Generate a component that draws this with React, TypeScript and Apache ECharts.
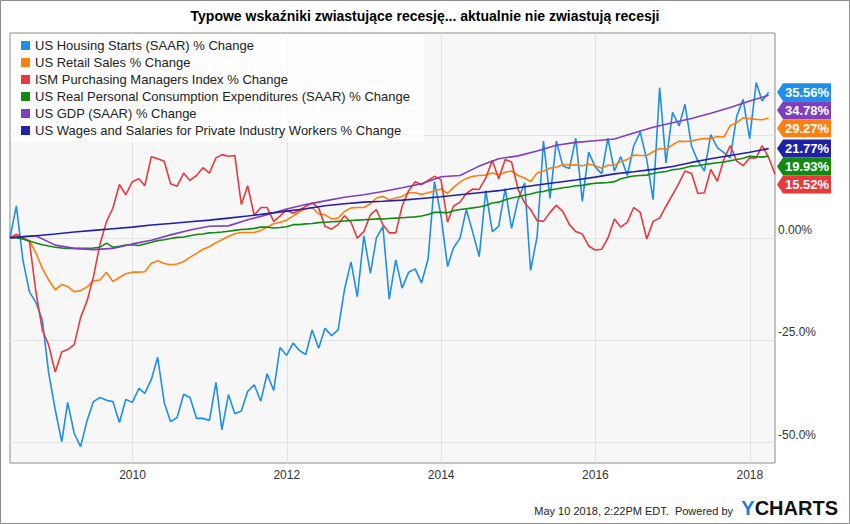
import React, { useEffect, useRef } from 'react';
import * as echarts from 'echarts';

const TITLE = 'Typowe wskaźniki zwiastujące recesję... aktualnie nie zwiastują recesji';
const FOOTER = 'May 10 2018, 2:22PM EDT.  Powered by';

const NAMES = [
  'US Housing Starts (SAAR) % Change',
  'US Retail Sales % Change',
  'ISM Purchasing Managers Index % Change',
  'US Real Personal Consumption Expenditures (SAAR) % Change',
  'US GDP (SAAR) % Change',
  'US Wages and Salaries for Private Industry Workers % Change',
];
const COLORS = ['#1f8ee8', '#ff7f0e', '#e8393d', '#128a12', '#7f3fbf', '#2121a6'];

// Monthly series, first value = May 2008 (month end)
const housingStarts = [
  0, 7.8, -5.4, -13.2, -15.7, -20.1, -33, -42, -49.8, -40.2,
  -47.8, -51, -44.6, -40, -39, -39.7, -40, -45.1, -39.5, -40.2,
  -36.8, -38, -34.6, -29.2, -40.2, -44.9, -43.9, -38.2, -39, -44.1,
  -44.1, -44.6, -35.3, -46.9, -38.3, -43, -42.3, -37.5, -35.9, -39.9,
  -33.2, -37.3, -26.8, -28.7, -25.7, -27.5, -28.5, -22.5, -27, -22.1,
  -23.9, -22.5, -12.7, -5.9, -14.4, 0.5, -8.7, -0.1, 2.8, -15,
  -5.4, -12.3, -8.4, -7.6, -11, -5.2, 13.7, 5.4, -7, -2.5,
  -0.1, 6.9, 1.2, -4.6, 11.5, 1.5, 2.8, 12, 2.3, 9.3,
  13.4, -8, 0.3, 23.6, 9.6, 23.6, 17.5, 16.9, 24.3, 8.9,
  20.9, 17.3, 15.6, 24.3, 16.3, 19.8, 15.2, 22.4, 25.8, 19.1,
  9.3, 36.7, 18.3, 30.6, 27.3, 32.6, 22.4, 18.7, 16.3, 25.2,
  22, 20.8, 19.5, 29.7, 33.8, 24.2, 37.9, 33.4, 35.56,
];
const retailSales = [
  0, 0.5, -0.3, -0.7, -3.6, -7.5, -10.3, -12.7, -11.4, -11.9,
  -13.2, -12.9, -12, -10.5, -10.3, -8.4, -10.7, -9.7, -8.8, -8.4,
  -8.4, -8.3, -6.2, -5.6, -6.3, -6.6, -6.4, -5.8, -4.8, -3.8,
  -2.8, -2.2, -1.2, -0.5, 0.3, 1, 1.3, 1.3, 1.3, 1.8,
  2.6, 3.4, 3.8, 4.3, 5.3, 6.3, 7.1, 7.4, 5.8, 5.6,
  4.6, 4.8, 6.4, 7.3, 7.4, 7.4, 8.3, 9.7, 10.1, 9.3,
  9.7, 10.1, 11, 11, 10.6, 11, 11.4, 11.9, 10.8, 12.3,
  13.6, 14.5, 15, 15.2, 15.3, 15.8, 15.4, 16, 16.3, 15.2,
  14.6, 13.7, 15.8, 16.3, 17, 17.2, 17.9, 17.8, 17.8, 17.6,
  18, 17.6, 17, 17.7, 17.7, 18.6, 19.1, 20.2, 20.1, 20.1,
  21, 21.8, 21.6, 22.7, 23.6, 23.5, 23.6, 24, 24.2, 24.2,
  24.7, 24.6, 27.4, 28.1, 29.3, 29.1, 28.9, 28.8, 29.27,
];
const ismPmi = [
  0, 0.9, 0, -0.9, -13, -22.5, -26.2, -32.8, -27.9, -27.3,
  -26.1, -19.5, -15.4, -9.5, -1.5, 4, 7.2, 13, 10.5, 13.7,
  14.4, 12.7, 19.8, 19.3, 18.7, 13.2, 12.6, 15.8, 14, 15.2,
  17.1, 15.8, 19.5, 20.3, 19.9, 20.1, 8.1, 12.7, 5.5, 7.4,
  7.4, 4, 5.3, 6.8, 6, 6.7, 7.7, 8.5, 7.3, 2.8,
  2.1, 3.2, 5.4, 3.8, -0.1, 1.5, 5.6, 6.9, 3.2, 1.2,
  1.2, 7.7, 11.5, 13.7, 13, 14, 15, 14.2, 3.8, 7.7,
  8.7, 10.8, 11.9, 11.8, 14.6, 18.9, 14.4, 19.1, 18.5, 11.8,
  8.5, 6.9, 4.2, 4, 6.2, 7.9, 6.4, 3.2, 1.5, 0.9,
  -2, -3, -2.8, -0.1, 4.6, 2.6, 3.8, 7.4, 6.2, -0.3,
  4, 4.8, 7.7, 10.5, 13.4, 16.3, 15.7, 10.8, 11, 16.7,
  13.8, 19.1, 22.5, 18.7, 17.6, 19.5, 19.5, 22.5, 19.6, 15.52,
];
const realPce = [
  0, 0, -0.3, -0.8, -1.3, -1.7, -2, -2.3, -2.5, -2.6,
  -2.6, -2.6, -2.6, -2.5, -2.3, -1.3, -2.3, -2.1, -1.8, -1.7,
  -1.9, -1.5, -1.1, -0.7, -0.5, -0.2, 0.1, 0.2, 0.5, 0.8,
  0.9, 1.2, 1.3, 1.4, 1.6, 1.8, 2, 2.1, 2.3, 2.6,
  2.6, 2.4, 2.5, 2.7, 3.2, 3.2, 3.4, 3.5, 3.7, 3.8,
  3.9, 4, 4.1, 4.2, 4.3, 4.4, 4.5, 4.6, 4.6, 4.7,
  4.8, 4.9, 5, 5.1, 5.3, 5.7, 6.2, 6.2, 6.1, 6.6,
  6.9, 7.1, 7.3, 7.5, 7.9, 8.5, 8.7, 9.3, 9.7, 10,
  10.4, 10.7, 11.1, 11.3, 11.7, 11.9, 12.2, 12.4, 12.7, 12.8,
  13.1, 13.3, 13.4, 13.5, 13.7, 14.4, 14.8, 15.1, 15.2, 15.3,
  15.7, 16, 16.2, 16.6, 16.8, 17.1, 17.5, 17.6, 17.9, 18.1,
  18.3, 18.5, 18.8, 19.1, 19.4, 19.9, 19.8, 19.7, 19.93,
];
// Quarterly series: first value = chart start (May 2008), then Q2 2008 .. Q1 2018
const gdp = [
  0, 0.2, 0.5, -1.8, -2.6, -2.9, -2.6, -1.5, -0.6, 0.7, 1.9,
  2.8, 2.9, 4.4, 5.6, 7, 8.1, 9, 9.9, 10.5, 11.3,
  12.2, 13.2, 14.9, 15.2, 17.5, 19.3, 20, 21.2, 22.6, 23.3,
  23.7, 24.1, 25.6, 27, 28.1, 29.1, 30.4, 31.8, 33.4, 34.78,
];
const wages = [
  0, 0.1, 0.5, 0.9, 1.4, 1.8, 2.2, 2.6, 3.1, 3.5, 3.9,
  4.3, 4.8, 5.3, 5.9, 6.5, 7.1, 7.8, 8.3, 8.7, 8.9,
  9.2, 9.6, 10, 10.5, 11, 11.5, 12.2, 12.9, 13.5, 14.1,
  14.8, 15.6, 16.1, 16.7, 17.4, 18.4, 19.3, 20.1, 20.9, 21.77,
];

const Y_GRID = [-50, -25, 0, 25];
const Y_LABELS = [-50, -25, 0];
const X_YEARS = [2010, 2012, 2014, 2016, 2018];

const START = Date.UTC(2008, 5, 0);
const END = Date.UTC(2018, 4, 0);
const monthEnd = (i: number) => Date.UTC(2008, 5 + i, 0);
const quarterEnd = (i: number) => (i === 0 ? START : Date.UTC(2008, 6 + 3 * (i - 1), 0));

const FONT = 'Liberation Sans, Arial, sans-serif';

export default function App() {
  const ref = useRef<HTMLDivElement>(null);
  useEffect(() => {
    if (!ref.current) return;
    const chart = echarts.init(ref.current, undefined, { renderer: 'svg' });
    const monthly = (arr: number[]) => arr.map((v, i) => [monthEnd(i), v]);
    const quarterly = (arr: number[]) => arr.map((v, i) => [quarterEnd(i), v]);
    const datasets = [
      monthly(housingStarts),
      monthly(retailSales),
      monthly(ismPmi),
      monthly(realPce),
      quarterly(gdp),
      quarterly(wages),
    ];
    const series = datasets.map((d, i) => ({
      name: NAMES[i],
      type: 'line',
      data: d,
      showSymbol: false,
      symbol: 'none',
      silent: true,
      color: COLORS[i],
      lineStyle: { width: 1.6, color: COLORS[i] },
      emphasis: { disabled: true },
      z: 2,
    }));
    const yearTicks = X_YEARS.map((y) => Date.UTC(y, 0, 1));
    chart.setOption({
      animation: false,
      textStyle: { fontFamily: FONT },
      title: {
        text: TITLE,
        left: 'center',
        top: 9,
        padding: 0,
        textStyle: { fontSize: 14, fontWeight: 'bold', color: '#000', fontFamily: FONT },
      },
      legend: {
        orient: 'vertical',
        left: 11,
        top: 34,
        padding: [5, 14, 5, 10],
        itemGap: 4,
        itemWidth: 9,
        itemHeight: 9,
        icon: 'rect',
        backgroundColor: 'rgba(255,255,255,0.8)',
        selectedMode: false,
        textStyle: { fontSize: 13, color: '#222', fontFamily: FONT },
        data: NAMES,
        z: 10,
      },
      grid: {
        left: 10,
        right: 75,
        top: 33,
        bottom: 61,
        show: true,
        backgroundColor: '#f7f7f7',
        borderColor: '#8c8c8c',
        borderWidth: 1,
      },
      xAxis: {
        type: 'value',
        min: START,
        max: END,
        axisLine: { show: false },
        axisTick: { show: false, customValues: yearTicks },
        axisLabel: {
          customValues: yearTicks,
          formatter: (v: number) => String(new Date(v).getUTCFullYear()),
          color: '#333',
          fontSize: 12,
          margin: 6,
          hideOverlap: false,
          fontFamily: FONT,
        },
        splitLine: { show: true, lineStyle: { color: '#e2e2e2', width: 1 } },
      },
      yAxis: {
        type: 'value',
        position: 'right',
        min: -55,
        max: 50,
        axisLine: { show: false },
        axisTick: { show: false, customValues: Y_GRID },
        axisLabel: {
          customValues: Y_LABELS,
          formatter: (v: number) => (v === 0 ? '0.00%' : v.toFixed(1) + '%'),
          color: '#333',
          fontSize: 12,
          margin: 3,
          verticalAlign: 'bottom',
          lineHeight: 14,
          padding: [0, 0, 1, 0],
          fontFamily: FONT,
        },
        splitLine: { show: true, lineStyle: { color: '#e2e2e2', width: 1 } },
      },
      series,
    });

    // end-value tags on the right, positioned via the chart's own scales
    const rightX = chart.convertToPixel({ xAxisIndex: 0, yAxisIndex: 0 }, [END, 0])[0];
    const ends = datasets.map((d, i) => {
      const last = d[d.length - 1];
      const p = chart.convertToPixel({ xAxisIndex: 0, yAxisIndex: 0 }, last as any);
      return { y: p[1], value: last[1] as number, color: COLORS[i] };
    });
    ends.sort((a, b) => a.y - b.y);
    const GAP = 18;
    for (let i = 1; i < ends.length; i++) {
      if (ends[i].y < ends[i - 1].y + GAP) ends[i].y = ends[i - 1].y + GAP;
    }
    const tip = rightX + 2;
    const tags: any[] = [];
    ends.forEach((e) => {
      const h = 9;
      tags.push({
        type: 'polygon',
        shape: {
          points: [
            [tip, e.y],
            [tip + 6, e.y - h],
            [tip + 54, e.y - h],
            [tip + 54, e.y + h],
            [tip + 6, e.y + h],
          ],
        },
        style: { fill: e.color },
        z: 100,
      });
      tags.push({
        type: 'text',
        x: tip + 30,
        y: e.y,
        style: {
          text: e.value.toFixed(2) + '%',
          fill: '#fff',
          font: 'bold 13px ' + FONT,
          align: 'center',
          verticalAlign: 'middle',
        },
        z: 101,
      });
    });
    chart.setOption({
      graphic: [
        {
          type: 'rect',
          shape: { x: 0.5, y: 0.5, width: 849, height: 523 },
          style: { fill: 'none', stroke: '#8c8c8c', lineWidth: 1 },
          z: 0,
        },
        {
          type: 'text',
          x: 733,
          y: 511,
          style: {
            text: FOOTER,
            fill: '#222',
            font: '11px ' + FONT,
            align: 'right',
            verticalAlign: 'middle',
          },
        },
        {
          type: 'text',
          x: 838,
          y: 508,
          style: {
            text: '{y|Y}{c|CHARTS}',
            align: 'right',
            verticalAlign: 'middle',
            rich: {
              y: { fill: '#1a7fe0', font: 'bold 20px ' + FONT },
              c: { fill: '#111', font: 'bold 20px ' + FONT },
            },
          },
        },
        ...tags,
      ],
    });
    return () => chart.dispose();
  }, []);
  return (
    <div
      ref={ref}
      style={{ position: 'absolute', left: 0, top: 0, width: 850, height: 524, background: '#fff' }}
    />
  );
}
